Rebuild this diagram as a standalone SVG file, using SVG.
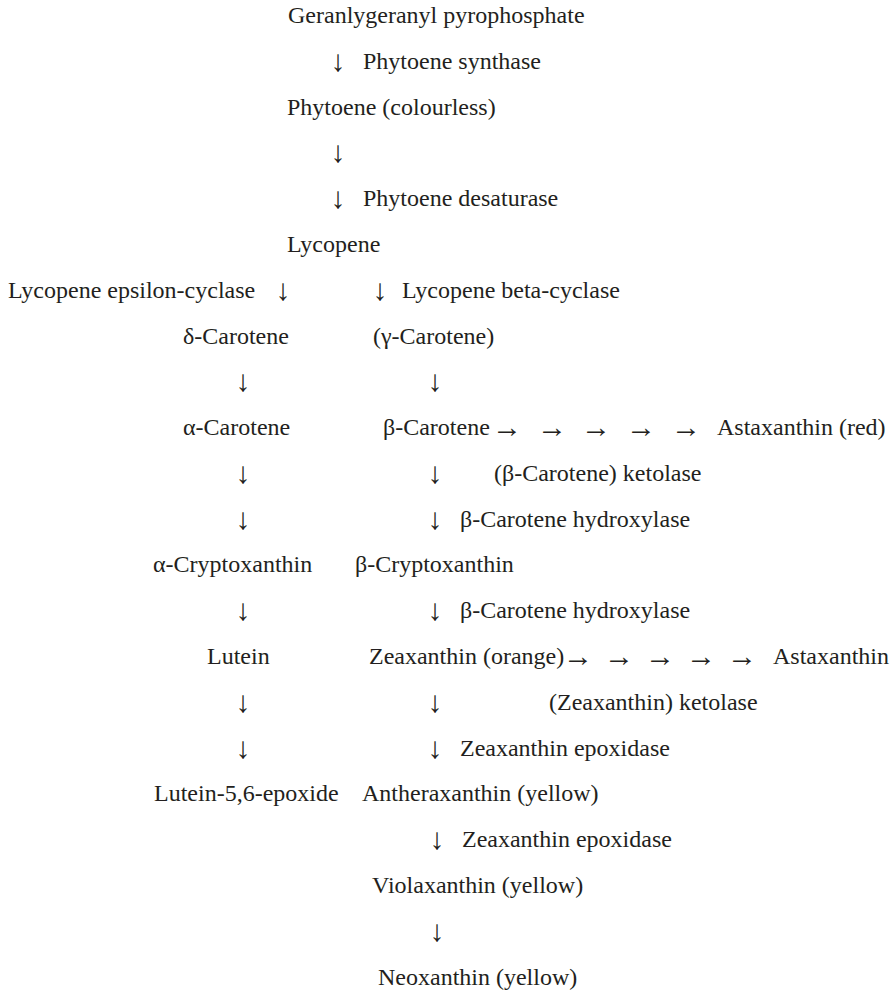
<svg xmlns="http://www.w3.org/2000/svg" width="896" height="994" viewBox="0 0 896 994">
  <style>
    text { font-family: "Liberation Serif", "Times New Roman", "DejaVu Serif", serif; font-size: 24px; fill: #231f20; }
    .arr { text-anchor: middle; font-size: 30px; }
  </style>
  <rect width="896" height="994" fill="#ffffff"/>

  <!-- compounds -->
  <g id="ggpp"><text x="288" y="23">Geranlygeranyl pyrophosphate</text></g>
  <g id="phytoene"><text x="287" y="114.6">Phytoene (colourless)</text></g>
  <g id="lycopene"><text x="287" y="252">Lycopene</text></g>
  <g id="delta-carotene"><text x="183" y="343.6">δ-Carotene</text></g>
  <g id="gamma-carotene"><text x="373" y="343.6">(γ-Carotene)</text></g>
  <g id="alpha-carotene"><text x="183" y="435">α-Carotene</text></g>
  <g id="beta-carotene"><text x="383" y="435">β-Carotene</text></g>
  <g id="astaxanthin-red"><text x="717" y="435">Astaxanthin (red)</text></g>
  <g id="alpha-cryptoxanthin"><text x="153" y="572.4">α-Cryptoxanthin</text></g>
  <g id="beta-cryptoxanthin"><text x="355" y="572.4">β-Cryptoxanthin</text></g>
  <g id="lutein"><text x="207" y="664">Lutein</text></g>
  <g id="zeaxanthin"><text x="369" y="664">Zeaxanthin (orange)</text></g>
  <g id="astaxanthin"><text x="773" y="664">Astaxanthin</text></g>
  <g id="lutein-epoxide"><text x="154" y="801.4">Lutein-5,6-epoxide</text></g>
  <g id="antheraxanthin"><text x="362" y="801.4">Antheraxanthin (yellow)</text></g>
  <g id="violaxanthin"><text x="372" y="893">Violaxanthin (yellow)</text></g>
  <g id="neoxanthin"><text x="378" y="984.6">Neoxanthin (yellow)</text></g>

  <!-- enzyme labels -->
  <g id="enzymes">
    <text x="363" y="68.8">Phytoene synthase</text>
    <text x="363" y="206.2">Phytoene desaturase</text>
    <text x="8" y="297.8">Lycopene epsilon-cyclase</text>
    <text x="402" y="297.8">Lycopene beta-cyclase</text>
    <text x="494" y="480.8">(β-Carotene) ketolase</text>
    <text x="460" y="526.6">β-Carotene hydroxylase</text>
    <text x="460" y="618.2">β-Carotene hydroxylase</text>
    <text x="549" y="709.8">(Zeaxanthin) ketolase</text>
    <text x="460" y="755.6">Zeaxanthin epoxidase</text>
    <text x="462" y="847.2">Zeaxanthin epoxidase</text>
  </g>

  <!-- connectors: arrow glyphs -->
  <g id="connectors">
    <!-- main trunk -->
    <text class="arr" x="338" y="70.8">↓</text>
    <text class="arr" x="338" y="162.4">↓</text>
    <text class="arr" x="338" y="208.2">↓</text>
    <!-- cyclase branch -->
    <text class="arr" x="283" y="299.8">↓</text>
    <text class="arr" x="380" y="299.8">↓</text>
    <!-- epsilon (left) and beta (right) columns -->
    <text class="arr" x="243" y="391.4">↓</text>
    <text class="arr" x="435" y="391.4">↓</text>
    <text class="arr" x="243" y="482.8">↓</text>
    <text class="arr" x="435" y="482.8">↓</text>
    <text class="arr" x="243" y="528.6">↓</text>
    <text class="arr" x="435" y="528.6">↓</text>
    <text class="arr" x="243" y="620.2">↓</text>
    <text class="arr" x="435" y="620.2">↓</text>
    <text class="arr" x="243" y="711.8">↓</text>
    <text class="arr" x="435" y="711.8">↓</text>
    <text class="arr" x="243" y="757.6">↓</text>
    <text class="arr" x="435" y="757.6">↓</text>
    <text class="arr" x="437" y="849.2">↓</text>
    <text class="arr" x="437" y="940.8">↓</text>
    <!-- beta-carotene to astaxanthin -->
    <text class="arr" x="507" y="437">→</text>
    <text class="arr" x="552" y="437">→</text>
    <text class="arr" x="596" y="437">→</text>
    <text class="arr" x="641" y="437">→</text>
    <text class="arr" x="686" y="437">→</text>
    <!-- zeaxanthin to astaxanthin -->
    <text class="arr" x="578" y="666">→</text>
    <text class="arr" x="619" y="666">→</text>
    <text class="arr" x="660" y="666">→</text>
    <text class="arr" x="701" y="666">→</text>
    <text class="arr" x="742" y="666">→</text>
  </g>
</svg>
